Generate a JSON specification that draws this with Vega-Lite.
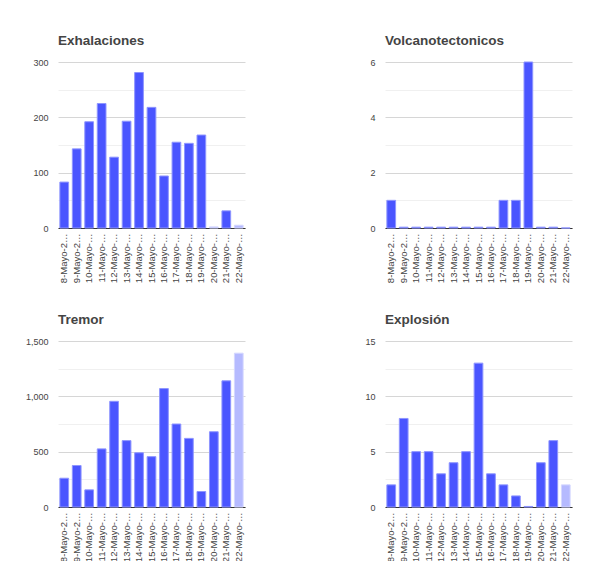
{
  "$schema": "https://vega.github.io/schema/vega-lite/v6.json",
  "padding": {"left": 25, "top": 33, "right": 20, "bottom": 0},
  "background": "white",
  "config": {
    "font": "Liberation Sans",
    "view": {"stroke": null},
    "title": {"fontSize": 13.5, "fontWeight": "bold", "color": "#444444", "anchor": "start", "frame": "group", "offset": 11},
    "axisX": {"labelAngle": -90, "labelFontSize": 9.5, "labelColor": "#444444", "labelLimit": 54, "labelPadding": 5, "ticks": false, "domainColor": "#333333", "grid": false, "title": null},
    "axisY": {"labelFontSize": 9, "labelColor": "#444444", "labelPadding": 10, "ticks": false, "domain": false, "title": null},
    "bar": {"strokeWidth": 1}
  },
  "datasets": {
    "sismo": [
      {"panel": "Exhalaciones", "fecha": "8-Mayo-2019", "i": 1, "valor": 83, "estimado": "no"},
      {"panel": "Exhalaciones", "fecha": "9-Mayo-2019", "i": 2, "valor": 143, "estimado": "no"},
      {"panel": "Exhalaciones", "fecha": "10-Mayo-2019", "i": 3, "valor": 192, "estimado": "no"},
      {"panel": "Exhalaciones", "fecha": "11-Mayo-2019", "i": 4, "valor": 225, "estimado": "no"},
      {"panel": "Exhalaciones", "fecha": "12-Mayo-2019", "i": 5, "valor": 128, "estimado": "no"},
      {"panel": "Exhalaciones", "fecha": "13-Mayo-2019", "i": 6, "valor": 193, "estimado": "no"},
      {"panel": "Exhalaciones", "fecha": "14-Mayo-2019", "i": 7, "valor": 281, "estimado": "no"},
      {"panel": "Exhalaciones", "fecha": "15-Mayo-2019", "i": 8, "valor": 218, "estimado": "no"},
      {"panel": "Exhalaciones", "fecha": "16-Mayo-2019", "i": 9, "valor": 94, "estimado": "no"},
      {"panel": "Exhalaciones", "fecha": "17-Mayo-2019", "i": 10, "valor": 155, "estimado": "no"},
      {"panel": "Exhalaciones", "fecha": "18-Mayo-2019", "i": 11, "valor": 153, "estimado": "no"},
      {"panel": "Exhalaciones", "fecha": "19-Mayo-2019", "i": 12, "valor": 168, "estimado": "no"},
      {"panel": "Exhalaciones", "fecha": "20-Mayo-2019", "i": 13, "valor": 2, "estimado": "si"},
      {"panel": "Exhalaciones", "fecha": "21-Mayo-2019", "i": 14, "valor": 31, "estimado": "no"},
      {"panel": "Exhalaciones", "fecha": "22-Mayo-2019", "i": 15, "valor": 5, "estimado": "si"},
      {"panel": "Volcanotectonicos", "fecha": "8-Mayo-2019", "i": 1, "valor": 1, "estimado": "no"},
      {"panel": "Volcanotectonicos", "fecha": "9-Mayo-2019", "i": 2, "valor": 0.03, "estimado": "no"},
      {"panel": "Volcanotectonicos", "fecha": "10-Mayo-2019", "i": 3, "valor": 0.03, "estimado": "no"},
      {"panel": "Volcanotectonicos", "fecha": "11-Mayo-2019", "i": 4, "valor": 0.03, "estimado": "no"},
      {"panel": "Volcanotectonicos", "fecha": "12-Mayo-2019", "i": 5, "valor": 0.03, "estimado": "no"},
      {"panel": "Volcanotectonicos", "fecha": "13-Mayo-2019", "i": 6, "valor": 0.03, "estimado": "no"},
      {"panel": "Volcanotectonicos", "fecha": "14-Mayo-2019", "i": 7, "valor": 0.03, "estimado": "no"},
      {"panel": "Volcanotectonicos", "fecha": "15-Mayo-2019", "i": 8, "valor": 0.03, "estimado": "no"},
      {"panel": "Volcanotectonicos", "fecha": "16-Mayo-2019", "i": 9, "valor": 0.03, "estimado": "no"},
      {"panel": "Volcanotectonicos", "fecha": "17-Mayo-2019", "i": 10, "valor": 1, "estimado": "no"},
      {"panel": "Volcanotectonicos", "fecha": "18-Mayo-2019", "i": 11, "valor": 1, "estimado": "no"},
      {"panel": "Volcanotectonicos", "fecha": "19-Mayo-2019", "i": 12, "valor": 6, "estimado": "no"},
      {"panel": "Volcanotectonicos", "fecha": "20-Mayo-2019", "i": 13, "valor": 0.03, "estimado": "no"},
      {"panel": "Volcanotectonicos", "fecha": "21-Mayo-2019", "i": 14, "valor": 0.03, "estimado": "no"},
      {"panel": "Volcanotectonicos", "fecha": "22-Mayo-2019", "i": 15, "valor": 0, "estimado": "no"},
      {"panel": "Tremor", "fecha": "8-Mayo-2019", "i": 1, "valor": 260, "estimado": "no"},
      {"panel": "Tremor", "fecha": "9-Mayo-2019", "i": 2, "valor": 375, "estimado": "no"},
      {"panel": "Tremor", "fecha": "10-Mayo-2019", "i": 3, "valor": 155, "estimado": "no"},
      {"panel": "Tremor", "fecha": "11-Mayo-2019", "i": 4, "valor": 525, "estimado": "no"},
      {"panel": "Tremor", "fecha": "12-Mayo-2019", "i": 5, "valor": 955, "estimado": "no"},
      {"panel": "Tremor", "fecha": "13-Mayo-2019", "i": 6, "valor": 600, "estimado": "no"},
      {"panel": "Tremor", "fecha": "14-Mayo-2019", "i": 7, "valor": 490, "estimado": "no"},
      {"panel": "Tremor", "fecha": "15-Mayo-2019", "i": 8, "valor": 455, "estimado": "no"},
      {"panel": "Tremor", "fecha": "16-Mayo-2019", "i": 9, "valor": 1070, "estimado": "no"},
      {"panel": "Tremor", "fecha": "17-Mayo-2019", "i": 10, "valor": 750, "estimado": "no"},
      {"panel": "Tremor", "fecha": "18-Mayo-2019", "i": 11, "valor": 620, "estimado": "no"},
      {"panel": "Tremor", "fecha": "19-Mayo-2019", "i": 12, "valor": 140, "estimado": "no"},
      {"panel": "Tremor", "fecha": "20-Mayo-2019", "i": 13, "valor": 680, "estimado": "no"},
      {"panel": "Tremor", "fecha": "21-Mayo-2019", "i": 14, "valor": 1140, "estimado": "no"},
      {"panel": "Tremor", "fecha": "22-Mayo-2019", "i": 15, "valor": 1390, "estimado": "si"},
      {"panel": "Explosión", "fecha": "8-Mayo-2019", "i": 1, "valor": 2, "estimado": "no"},
      {"panel": "Explosión", "fecha": "9-Mayo-2019", "i": 2, "valor": 8, "estimado": "no"},
      {"panel": "Explosión", "fecha": "10-Mayo-2019", "i": 3, "valor": 5, "estimado": "no"},
      {"panel": "Explosión", "fecha": "11-Mayo-2019", "i": 4, "valor": 5, "estimado": "no"},
      {"panel": "Explosión", "fecha": "12-Mayo-2019", "i": 5, "valor": 3, "estimado": "no"},
      {"panel": "Explosión", "fecha": "13-Mayo-2019", "i": 6, "valor": 4, "estimado": "no"},
      {"panel": "Explosión", "fecha": "14-Mayo-2019", "i": 7, "valor": 5, "estimado": "no"},
      {"panel": "Explosión", "fecha": "15-Mayo-2019", "i": 8, "valor": 13, "estimado": "no"},
      {"panel": "Explosión", "fecha": "16-Mayo-2019", "i": 9, "valor": 3, "estimado": "no"},
      {"panel": "Explosión", "fecha": "17-Mayo-2019", "i": 10, "valor": 2, "estimado": "no"},
      {"panel": "Explosión", "fecha": "18-Mayo-2019", "i": 11, "valor": 1, "estimado": "no"},
      {"panel": "Explosión", "fecha": "19-Mayo-2019", "i": 12, "valor": 0.05, "estimado": "no"},
      {"panel": "Explosión", "fecha": "20-Mayo-2019", "i": 13, "valor": 4, "estimado": "no"},
      {"panel": "Explosión", "fecha": "21-Mayo-2019", "i": 14, "valor": 6, "estimado": "no"},
      {"panel": "Explosión", "fecha": "22-Mayo-2019", "i": 15, "valor": 2, "estimado": "si"}
    ]
  },
  "data": {"name": "sismo"},
  "columns": 2,
  "spacing": {"column": 119, "row": 29},
  "concat": [
    {
      "title": "Exhalaciones",
      "width": 187, "height": 166,
      "transform": [{"filter": "datum.panel === 'Exhalaciones'"}],
      "mark": {"type": "bar"},
      "encoding": {
        "x": {"field": "fecha", "type": "ordinal", "sort": {"field": "i"}, "scale": {"paddingInner": 0.3, "paddingOuter": 0.15}},
        "y": {"field": "valor", "type": "quantitative", "scale": {"domain": [0, 300], "nice": false},
          "axis": {"values": [0, 50, 100, 150, 200, 250, 300], "labelExpr": "datum.value % 100 === 0 ? format(datum.value, ',') : ''",
            "gridColor": {"condition": {"test": "datum.value % 100 === 0", "value": "#d6d6d6"}, "value": "#f0f0f0"}}},
        "color": {"field": "estimado", "type": "nominal", "scale": {"domain": ["no", "si"], "range": ["#4a55ff", "#b5baff"]}, "legend": null},
        "stroke": {"field": "estimado", "type": "nominal", "scale": {"domain": ["no", "si"], "range": ["#8e95ff", "#d4d7ff"]}, "legend": null}
      }
    },
    {
      "title": "Volcanotectonicos",
      "width": 187, "height": 166,
      "transform": [{"filter": "datum.panel === 'Volcanotectonicos'"}],
      "mark": {"type": "bar"},
      "encoding": {
        "x": {"field": "fecha", "type": "ordinal", "sort": {"field": "i"}, "scale": {"paddingInner": 0.3, "paddingOuter": 0.15}},
        "y": {"field": "valor", "type": "quantitative", "scale": {"domain": [0, 6], "nice": false},
          "axis": {"values": [0, 1, 2, 3, 4, 5, 6], "labelExpr": "datum.value % 2 === 0 ? format(datum.value, ',') : ''",
            "gridColor": {"condition": {"test": "datum.value % 2 === 0", "value": "#d6d6d6"}, "value": "#f0f0f0"}}},
        "color": {"field": "estimado", "type": "nominal", "scale": {"domain": ["no", "si"], "range": ["#4a55ff", "#b5baff"]}, "legend": null},
        "stroke": {"field": "estimado", "type": "nominal", "scale": {"domain": ["no", "si"], "range": ["#8e95ff", "#d4d7ff"]}, "legend": null}
      }
    },
    {
      "title": "Tremor",
      "width": 187, "height": 166,
      "transform": [{"filter": "datum.panel === 'Tremor'"}],
      "mark": {"type": "bar"},
      "encoding": {
        "x": {"field": "fecha", "type": "ordinal", "sort": {"field": "i"}, "scale": {"paddingInner": 0.3, "paddingOuter": 0.15}},
        "y": {"field": "valor", "type": "quantitative", "scale": {"domain": [0, 1500], "nice": false},
          "axis": {"values": [0, 250, 500, 750, 1000, 1250, 1500], "labelExpr": "datum.value % 500 === 0 ? format(datum.value, ',') : ''",
            "gridColor": {"condition": {"test": "datum.value % 500 === 0", "value": "#d6d6d6"}, "value": "#f0f0f0"}}},
        "color": {"field": "estimado", "type": "nominal", "scale": {"domain": ["no", "si"], "range": ["#4a55ff", "#b5baff"]}, "legend": null},
        "stroke": {"field": "estimado", "type": "nominal", "scale": {"domain": ["no", "si"], "range": ["#8e95ff", "#d4d7ff"]}, "legend": null}
      }
    },
    {
      "title": "Explosión",
      "width": 187, "height": 166,
      "transform": [{"filter": "datum.panel === 'Explosión'"}],
      "mark": {"type": "bar"},
      "encoding": {
        "x": {"field": "fecha", "type": "ordinal", "sort": {"field": "i"}, "scale": {"paddingInner": 0.3, "paddingOuter": 0.15}},
        "y": {"field": "valor", "type": "quantitative", "scale": {"domain": [0, 15], "nice": false},
          "axis": {"values": [0, 2.5, 5, 7.5, 10, 12.5, 15], "labelExpr": "datum.value % 5 === 0 ? format(datum.value, ',') : ''",
            "gridColor": {"condition": {"test": "datum.value % 5 === 0", "value": "#d6d6d6"}, "value": "#f0f0f0"}}},
        "color": {"field": "estimado", "type": "nominal", "scale": {"domain": ["no", "si"], "range": ["#4a55ff", "#b5baff"]}, "legend": null},
        "stroke": {"field": "estimado", "type": "nominal", "scale": {"domain": ["no", "si"], "range": ["#8e95ff", "#d4d7ff"]}, "legend": null}
      }
    }
  ]
}
